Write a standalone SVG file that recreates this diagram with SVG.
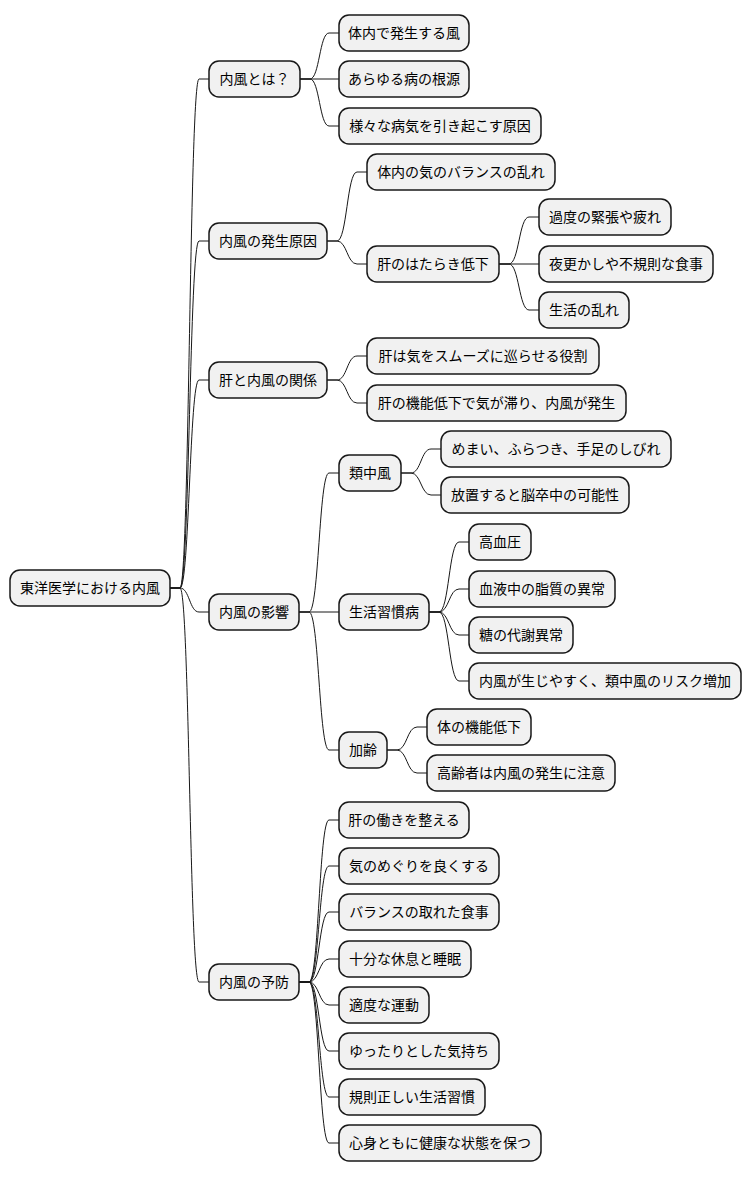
<svg xmlns="http://www.w3.org/2000/svg" width="752" height="1178" viewBox="0 0 752 1178">
<style>
rect{fill:#f1f1f1;stroke:#181818;stroke-width:1.5}
text{font-family:"Noto Sans CJK JP","Noto Sans",sans-serif;font-size:14px;fill:#000;text-anchor:middle}
#connectors path{fill:none;stroke:#181818;stroke-width:1}
</style>
<rect x="0" y="0" width="752" height="1178" style="fill:#fff;stroke:none"/>
<g id="connectors">
<path d="M170 588H180C189.5 588 189.5 79 199 79H209"/>
<path d="M170 588H180C189.5 588 189.5 241 199 241H209"/>
<path d="M170 588H180C189.5 588 189.5 380 199 380H209"/>
<path d="M170 588H180C189.5 588 189.5 612 199 612H209"/>
<path d="M170 588H180C189.5 588 189.5 982 199 982H209"/>
<path d="M300 79H310C319.5 79 319.5 33 329 33H339"/>
<path d="M300 79H339"/>
<path d="M300 79H310C319.5 79 319.5 126 329 126H339"/>
<path d="M327 241H337C347 241 347 172 357 172H367"/>
<path d="M327 241H337C347 241 347 264 357 264H367"/>
<path d="M499 264H509C519 264 519 217 529 217H539"/>
<path d="M499 264H539"/>
<path d="M499 264H509C519 264 519 310 529 310H539"/>
<path d="M327 380H337C347 380 347 356 357 356H367"/>
<path d="M327 380H337C347 380 347 403 357 403H367"/>
<path d="M299 612H309C319 612 319 473 329 473H339"/>
<path d="M299 612H339"/>
<path d="M299 612H309C319 612 319 750 329 750H339"/>
<path d="M401 473H411C421 473 421 449 431 449H441"/>
<path d="M401 473H411C421 473 421 495 431 495H441"/>
<path d="M429 612H439C449 612 449 542 459 542H469"/>
<path d="M429 612H439C449 612 449 589 459 589H469"/>
<path d="M429 612H439C449 612 449 635 459 635H469"/>
<path d="M429 612H439C449 612 449 681 459 681H469"/>
<path d="M387 750H397C407 750 407 727 417 727H427"/>
<path d="M387 750H397C407 750 407 773 417 773H427"/>
<path d="M299 982H309C319 982 319 820 329 820H339"/>
<path d="M299 982H309C319 982 319 866 329 866H339"/>
<path d="M299 982H309C319 982 319 912 329 912H339"/>
<path d="M299 982H309C319 982 319 959 329 959H339"/>
<path d="M299 982H309C319 982 319 1005 329 1005H339"/>
<path d="M299 982H309C319 982 319 1051 329 1051H339"/>
<path d="M299 982H309C319 982 319 1097 329 1097H339"/>
<path d="M299 982H309C319 982 319 1143 329 1143H339"/>
</g>
<g id="root"><rect x="10" y="570" width="160" height="36" rx="10"/><text x="90" y="593">東洋医学における内風</text></g>
<g id="n1"><rect x="209" y="61" width="91" height="36" rx="10"/><text x="254.5" y="84">内風とは？</text></g>
<g id="n2"><rect x="209" y="223" width="118" height="36" rx="10"/><text x="268" y="246">内風の発生原因</text></g>
<g id="n3"><rect x="209" y="362" width="118" height="36" rx="10"/><text x="268" y="385">肝と内風の関係</text></g>
<g id="n4"><rect x="209" y="594" width="90" height="36" rx="10"/><text x="254" y="617">内風の影響</text></g>
<g id="n5"><rect x="209" y="964" width="90" height="36" rx="10"/><text x="254" y="987">内風の予防</text></g>
<g id="n1a"><rect x="339" y="15" width="130" height="36" rx="10"/><text x="404" y="38">体内で発生する風</text></g>
<g id="n1b"><rect x="339" y="61" width="130" height="36" rx="10"/><text x="404" y="84">あらゆる病の根源</text></g>
<g id="n1c"><rect x="339" y="108" width="202" height="36" rx="10"/><text x="440" y="131">様々な病気を引き起こす原因</text></g>
<g id="n2a"><rect x="367" y="154" width="188" height="36" rx="10"/><text x="461" y="177">体内の気のバランスの乱れ</text></g>
<g id="n2b"><rect x="367" y="246" width="132" height="36" rx="10"/><text x="433" y="269">肝のはたらき低下</text></g>
<g id="n2b1"><rect x="539" y="199" width="132" height="36" rx="10"/><text x="605" y="222">過度の緊張や疲れ</text></g>
<g id="n2b2"><rect x="539" y="246" width="174" height="36" rx="10"/><text x="626" y="269">夜更かしや不規則な食事</text></g>
<g id="n2b3"><rect x="539" y="292" width="90" height="36" rx="10"/><text x="584" y="315">生活の乱れ</text></g>
<g id="n3a"><rect x="367" y="338" width="232" height="36" rx="10"/><text x="483" y="361">肝は気をスムーズに巡らせる役割</text></g>
<g id="n3b"><rect x="367" y="385" width="259" height="36" rx="10"/><text x="496.5" y="408">肝の機能低下で気が滞り、内風が発生</text></g>
<g id="n4a"><rect x="339" y="455" width="62" height="36" rx="10"/><text x="370" y="478">類中風</text></g>
<g id="n4a1"><rect x="441" y="431" width="230" height="36" rx="10"/><text x="556" y="454">めまい、ふらつき、手足のしびれ</text></g>
<g id="n4a2"><rect x="441" y="477" width="188" height="36" rx="10"/><text x="535" y="500">放置すると脳卒中の可能性</text></g>
<g id="n4b"><rect x="339" y="594" width="90" height="36" rx="10"/><text x="384" y="617">生活習慣病</text></g>
<g id="n4b1"><rect x="469" y="524" width="62" height="36" rx="10"/><text x="500" y="547">高血圧</text></g>
<g id="n4b2"><rect x="469" y="571" width="146" height="36" rx="10"/><text x="542" y="594">血液中の脂質の異常</text></g>
<g id="n4b3"><rect x="469" y="617" width="104" height="36" rx="10"/><text x="521" y="640">糖の代謝異常</text></g>
<g id="n4b4"><rect x="469" y="663" width="272" height="36" rx="10"/><text x="605" y="686">内風が生じやすく、類中風のリスク増加</text></g>
<g id="n4c"><rect x="339" y="732" width="48" height="36" rx="10"/><text x="363" y="755">加齢</text></g>
<g id="n4c1"><rect x="427" y="709" width="104" height="36" rx="10"/><text x="479" y="732">体の機能低下</text></g>
<g id="n4c2"><rect x="427" y="755" width="188" height="36" rx="10"/><text x="521" y="778">高齢者は内風の発生に注意</text></g>
<g id="n5a"><rect x="339" y="802" width="130" height="36" rx="10"/><text x="404" y="825">肝の働きを整える</text></g>
<g id="n5b"><rect x="339" y="848" width="160" height="36" rx="10"/><text x="419" y="871">気のめぐりを良くする</text></g>
<g id="n5c"><rect x="339" y="894" width="160" height="36" rx="10"/><text x="419" y="917">バランスの取れた食事</text></g>
<g id="n5d"><rect x="339" y="941" width="132" height="36" rx="10"/><text x="405" y="964">十分な休息と睡眠</text></g>
<g id="n5e"><rect x="339" y="987" width="90" height="36" rx="10"/><text x="384" y="1010">適度な運動</text></g>
<g id="n5f"><rect x="339" y="1033" width="160" height="36" rx="10"/><text x="419" y="1056">ゆったりとした気持ち</text></g>
<g id="n5g"><rect x="339" y="1079" width="146" height="36" rx="10"/><text x="412" y="1102">規則正しい生活習慣</text></g>
<g id="n5h"><rect x="339" y="1125" width="202" height="36" rx="10"/><text x="440" y="1148">心身ともに健康な状態を保つ</text></g>
</svg>
